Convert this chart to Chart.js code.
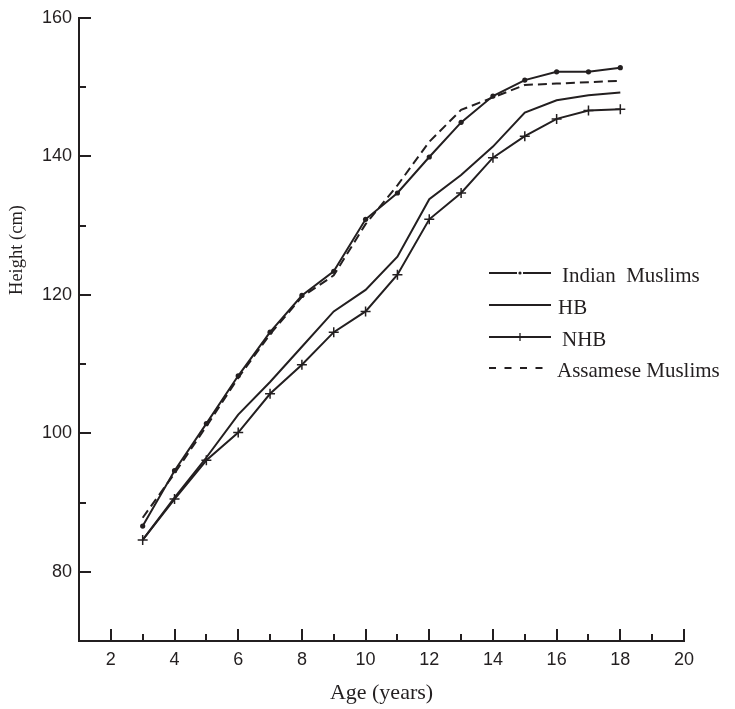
<!DOCTYPE html>
<html>
<head>
<meta charset="utf-8">
<script src="https://cdn.jsdelivr.net/npm/chart.js@4.4.1/dist/chart.umd.min.js"></script>
<style>
  html, body { margin: 0; padding: 0; background: #fff; }
  #wrap { width: 735px; height: 709px; }
</style>
</head>
<body>
<div id="wrap"><canvas id="myChart" width="735" height="709"></canvas></div>
<script>
// ages (x) and heights (cm)
const ages = [3, 4, 5, 6, 7, 8, 9, 10, 11, 12, 13, 14, 15, 16, 17, 18];
const indianMuslims = [86.6, 94.6, 101.4, 108.3, 114.6, 119.9, 123.4, 130.9, 134.7, 139.9, 144.9, 148.7, 151.0, 152.2, 152.2, 152.8];
const hb = [84.6, 90.7, 96.5, 102.7, 107.4, 112.5, 117.6, 120.7, 125.5, 133.8, 137.3, 141.4, 146.3, 148.1, 148.8, 149.2];
const nhb = [84.6, 90.5, 96.1, 100.1, 105.7, 109.9, 114.6, 117.6, 122.9, 130.9, 134.7, 139.8, 142.9, 145.4, 146.6, 146.8];
const assameseMuslims = [87.8, 94.2, 101.0, 108.0, 114.3, 119.7, 122.8, 130.2, 135.8, 142.1, 146.7, 148.5, 150.3, 150.5, 150.7, 150.9];

const seriesNames = ['Indian  Muslims', 'HB', 'NHB', 'Assamese Muslims'];
const xTitle = 'Age (years)';
const yTitle = 'Height (cm)';

const INK = '#231f20';
const toPoints = (ys) => ys.map((y, i) => ({ x: ages[i], y: y }));

// inward major/minor ticks, the y title and the legend with line samples
const decorations = {
  id: 'decorations',
  afterDraw(chart) {
    const ctx = chart.ctx;
    const area = chart.chartArea;
    const xs = chart.scales.x;
    const ys = chart.scales.y;
    ctx.save();
    ctx.strokeStyle = INK;
    ctx.lineWidth = 2;

    xs.ticks.forEach(t => {
      if (t.value === xs.min) return;
      const px = Math.round(xs.getPixelForValue(t.value));
      const len = t.value % 2 === 0 ? 12 : 7;
      ctx.beginPath();
      ctx.moveTo(px, area.bottom);
      ctx.lineTo(px, area.bottom - len);
      ctx.stroke();
    });
    ys.ticks.forEach(t => {
      if (t.value === ys.min) return;
      const py = Math.round(ys.getPixelForValue(t.value));
      const len = t.value % 20 === 0 ? 12 : 7;
      ctx.beginPath();
      ctx.moveTo(area.left, py);
      ctx.lineTo(area.left + len, py);
      ctx.stroke();
    });

    // y title
    ctx.fillStyle = INK;
    ctx.font = '18.5px "Liberation Serif", "Times New Roman", serif';
    ctx.textAlign = 'center';
    ctx.textBaseline = 'middle';
    ctx.translate(17, 250);
    ctx.rotate(-Math.PI / 2);
    ctx.fillText(yTitle, 0, 0);
    ctx.restore();

    // legend
    ctx.save();
    ctx.strokeStyle = INK;
    ctx.fillStyle = INK;
    ctx.font = '21px "Liberation Serif", "Times New Roman", serif';
    ctx.textBaseline = 'alphabetic';
    ctx.textAlign = 'left';
    const x0 = 489, x1 = 551, rowY = [273, 305, 337, 368], textX = [562, 558, 562, 557];
    chart.data.datasets.forEach((ds, i) => {
      const y = rowY[i];
      const xm = (x0 + x1) / 2;
      ctx.lineWidth = 2;
      ctx.beginPath();
      if (ds.pointStyle === 'circle') {
        ctx.moveTo(x0, y); ctx.lineTo(xm - 3, y);
        ctx.moveTo(xm + 3, y); ctx.lineTo(x1, y);
      } else if (ds.borderDash && ds.borderDash.length) {
        ctx.setLineDash([7, 8.5]);
        ctx.moveTo(x0, y); ctx.lineTo(x1 - 8, y);
      } else {
        ctx.moveTo(x0, y); ctx.lineTo(x1, y);
      }
      ctx.stroke();
      ctx.setLineDash([]);
      if (ds.pointStyle === 'circle') {
        ctx.beginPath();
        ctx.arc(xm, y, 1.6, 0, Math.PI * 2);
        ctx.fill();
      } else if (ds.pointStyle === 'cross') {
        ctx.lineWidth = 1.3;
        ctx.beginPath();
        ctx.moveTo(xm - 4, y); ctx.lineTo(xm + 4, y);
        ctx.moveTo(xm, y - 4); ctx.lineTo(xm, y + 4);
        ctx.stroke();
      }
      ctx.fillText(ds.label, textX[i], y + 9);
    });
    ctx.restore();
  }
};

const ctx = document.getElementById('myChart');
new Chart(ctx, {
  type: 'line',
  data: {
    datasets: [
      {
        label: seriesNames[0],
        data: toPoints(indianMuslims),
        borderColor: INK,
        backgroundColor: INK,
        borderWidth: 2,
        pointStyle: 'circle',
        pointRadius: 2.6,
        pointBorderWidth: 0,
        fill: false,
        tension: 0,
      },
      {
        label: seriesNames[1],
        data: toPoints(hb),
        borderColor: INK,
        borderWidth: 2,
        pointRadius: 0,
        fill: false,
        tension: 0,
      },
      {
        label: seriesNames[2],
        data: toPoints(nhb),
        borderColor: INK,
        backgroundColor: INK,
        borderWidth: 2,
        pointStyle: 'cross',
        pointRadius: 5,
        pointBorderWidth: 1.5,
        fill: false,
        tension: 0,
      },
      {
        label: seriesNames[3],
        data: toPoints(assameseMuslims),
        borderColor: INK,
        borderWidth: 2,
        borderDash: [9, 5],
        pointRadius: 0,
        fill: false,
        tension: 0,
      },
    ],
  },
  options: {
    responsive: false,
    animation: false,
    layout: { padding: { top: 15, right: 51, left: 0, bottom: 0 } },
    plugins: {
      legend: { display: false },
      tooltip: { enabled: false },
    },
    scales: {
      x: {
        type: 'linear',
        min: 1,
        max: 20,
        afterFit: (scale) => { scale.height = 68; },
        grid: { display: false, drawTicks: false },
        border: { display: true, color: INK, width: 2 },
        ticks: {
          stepSize: 1,
          autoSkip: false,
          maxRotation: 0,
          padding: 8,
          color: INK,
          font: { family: '"Liberation Sans", Arial, sans-serif', size: 18 },
          callback: (v) => (v % 2 === 0 ? v : ''),
        },
        title: {
          display: true,
          text: xTitle,
          color: INK,
          padding: { top: 0, bottom: 3 },
          font: { family: '"Liberation Serif", "Times New Roman", serif', size: 22 },
        },
      },
      y: {
        type: 'linear',
        min: 70,
        max: 160,
        afterFit: (scale) => { scale.width = 79; },
        grid: { display: false, drawTicks: false },
        border: { display: true, color: INK, width: 2 },
        ticks: {
          stepSize: 10,
          autoSkip: false,
          padding: 7,
          color: INK,
          font: { family: '"Liberation Sans", Arial, sans-serif', size: 18 },
          callback: (v) => (v % 20 === 0 ? v : ''),
        },
      },
    },
  },
  plugins: [decorations],
});
</script>
</body>
</html>
